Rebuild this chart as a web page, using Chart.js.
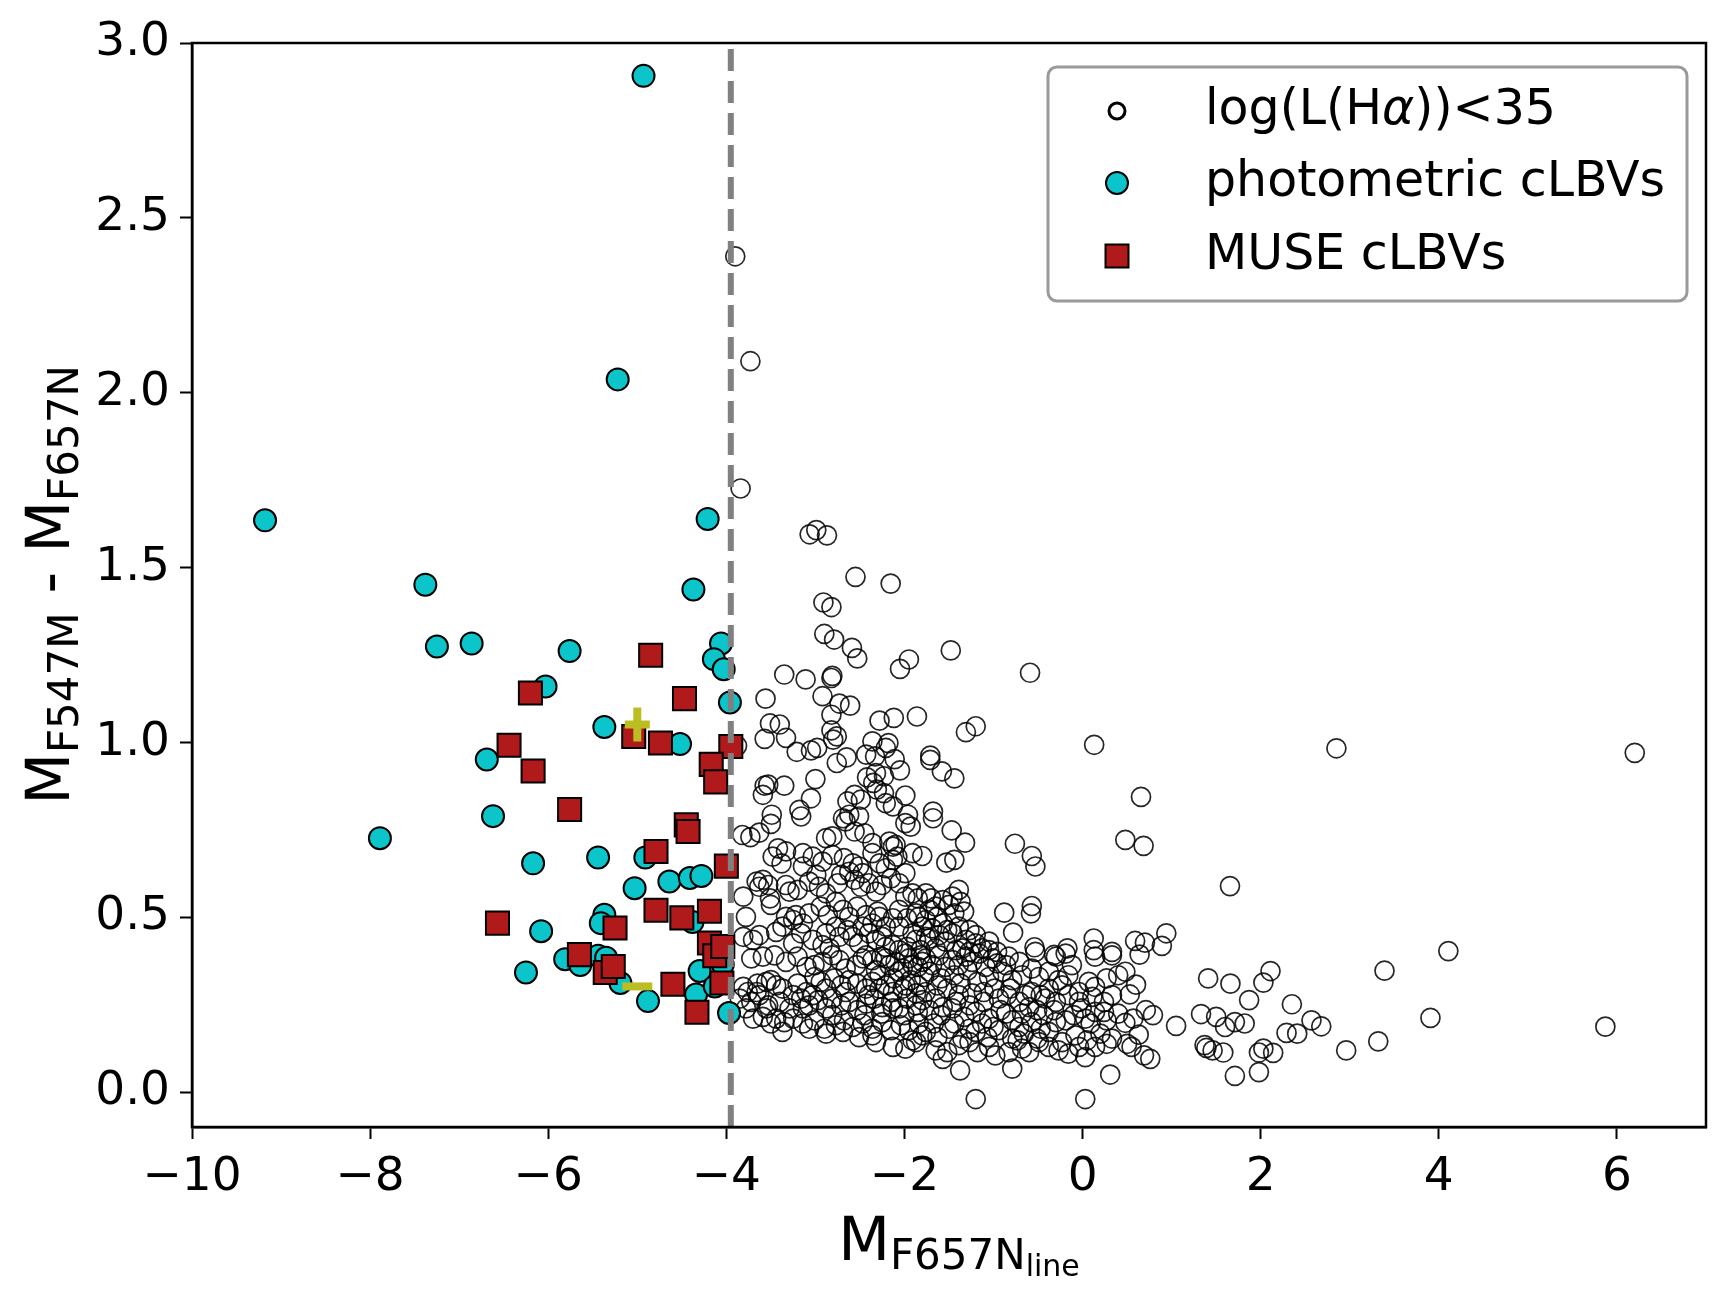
<!DOCTYPE html>
<html lang="en">
<head>
  <meta charset="UTF-8">
  <title>cLBV colour - magnitude diagram</title>
  <script src="https://cdn.jsdelivr.net/npm/chart.js"></script>
  <style>
    body { margin: 0; background: #fff; }
    #cmd { display: block; }
  </style>
</head>
<body>
  <canvas id="cmd" width="1731" height="1293"></canvas>

  <script>
    // x = M_F657N_line, y = M_F547M - M_F657N
    const xTicks = [-10, -8, -6, -4, -2, 0, 2, 4, 6];
    const xTickLabels = ['\u221210', '\u22128', '\u22126', '\u22124', '\u22122', '0', '2', '4', '6'];
    const yTicks = [0, 0.5, 1, 1.5, 2, 2.5, 3];
    const yTickLabels = ['0.0', '0.5', '1.0', '1.5', '2.0', '2.5', '3.0'];
    const cutX = -3.95;   // dashed separation line

    const seriesNames = ['log(L(H\u03b1))<35', 'photometric cLBVs', 'MUSE cLBVs'];

    // faint sources, log(L(Halpha)) < 35  [x, y]
    const faint = [
      [-3.90,2.39],[-3.73,2.09],[-3.84,1.726],[2.85,0.983],[6.2,0.97],[0.656,0.844],[5.87,0.187],[-3.88,0.99],
      [-3.065,1.595],[-2.99,1.607],[-2.87,1.592],[-2.55,1.473],[-2.155,1.454],[-2.91,1.40],[-2.82,1.387],
      [-2.90,1.31],[-2.79,1.294],[-2.59,1.27],[-2.53,1.24],[-1.95,1.237],[-2.05,1.21],[-1.48,1.263],[-0.59,1.199],
      [-3.35,1.194],[-3.11,1.18],[-2.82,1.184],[-2.81,1.19],[-3.56,1.125],[-2.92,1.132],[-2.73,1.111],[-2.61,1.105],
      [-2.82,1.079],[-2.28,1.062],[-2.12,1.07],[-1.86,1.074],[-3.51,1.054],[-3.40,1.051],[-2.82,1.034],[-2.76,1.017],
      [-2.80,1.008],[-3.57,1.01],[-3.33,1.013],[-1.20,1.046],[-1.31,1.029],[0.13,0.993],[-3.21,0.973],[-3.05,0.977],
      [-2.98,0.984],[-2.76,0.941],[-2.65,0.957],[-2.43,0.965],[-2.33,0.96],[-2.36,1.003],[-2.18,0.998],[-2.21,0.984],
      [-2.11,0.952],[-2.05,0.92],[-1.71,0.962],[-1.71,0.95],[-1.58,0.917],[-1.44,0.897],[-2.42,0.90],[-2.32,0.912],
      [-2.23,0.903],[-2.35,0.884],[-2.31,0.865],[-2.23,0.855],[-3.0,0.895],[-3.57,0.876],[-3.53,0.879],[-3.59,0.85],
      [-3.35,0.876],[-3.05,0.84],[-3.18,0.807],[-3.49,0.793],[-2.64,0.831],[-2.56,0.85],[-2.49,0.836],[-1.99,0.848],
      [-2.21,0.826],[-2.13,0.817],[-1.96,0.793],[-1.68,0.802],[-2.69,0.783],[-2.62,0.793],
      [-3.82,0.735],[-3.73,0.729],[-3.63,0.742],[-3.50,0.767],[-3.16,0.788],[-2.88,0.726],[-2.81,0.731],[-2.66,0.774],
      [-2.56,0.745],[-2.45,0.740],[-2.36,0.712],[-2.17,0.716],[-2.13,0.702],[-2.10,0.707],[-1.99,0.769],[-1.93,0.759],
      [-1.91,0.683],[-2.51,0.788],[-3.42,0.697],[-3.33,0.688],[-3.38,0.654],[-3.48,0.673],[-3.14,0.683],[-3.03,0.673],
      [-3.14,0.645],[-2.92,0.659],[-2.81,0.678],[-2.68,0.669],[-2.58,0.654],[-2.51,0.645],[-2.47,0.626],[-2.36,0.683],
      [-2.28,0.654],[-2.21,0.640],[-2.13,0.664],[-2.08,0.673],[-1.99,0.626],[-3.81,0.559],[-3.66,0.602],[-3.59,0.607],
      [-3.53,0.592],[-3.63,0.587],[-3.33,0.592],[-3.29,0.573],[-3.20,0.578],[-3.07,0.602],[-2.99,0.621],[-2.96,0.587],
      [-2.88,0.568],[-2.75,0.597],[-2.71,0.621],[-2.62,0.630],[-2.56,0.607],[-2.49,0.587],[-2.40,0.597],[-2.32,0.573],
      [-2.25,0.592],[-2.15,0.611],[-2.06,0.597],[-1.99,0.559],[-1.91,0.568],[-1.85,0.554],[-3.78,0.501],[-3.51,0.554],
      [-3.50,0.535],[-3.33,0.501],[-3.25,0.492],[-3.22,0.506],[-3.14,0.482],[-3.07,0.511],[-2.94,0.530],[-2.86,0.506],
      [-2.77,0.544],[-2.69,0.521],[-2.62,0.501],[-2.53,0.530],[-2.43,0.506],[-2.36,0.482],[-2.28,0.501],[-2.21,0.473],
      [-2.13,0.497],[-2.06,0.521],[-1.97,0.497],[-1.87,0.511],[-1.80,0.473],[-3.81,0.444],[-3.70,0.435],[-3.63,0.449],
      [-3.44,0.458],[-3.37,0.473],[-3.25,0.425],[-3.16,0.454],[-3.03,0.435],[-2.92,0.420],[-2.84,0.411],[-2.73,0.444],
      [-2.64,0.463],[-2.51,0.425],[-2.40,0.454],[-2.32,0.435],[-2.25,0.444],[-2.13,0.420],[-2.06,0.406],[-1.97,0.415],
      [-1.87,0.435],[-1.82,0.406],[-1.76,0.444],
      [-3.72,0.382],[-3.59,0.387],[-3.46,0.391],[-3.33,0.372],[-3.20,0.387],[-3.10,0.358],[-3.01,0.363],[-2.92,0.372],
      [-2.81,0.391],[-2.73,0.377],[-2.66,0.353],[-2.54,0.363],[-2.47,0.382],[-2.36,0.377],[-2.26,0.387],[-2.17,0.363],
      [-2.10,0.372],[-2.02,0.353],[-1.95,0.382],[-1.85,0.358],[-1.80,0.372],[-3.81,0.301],[-3.76,0.286],[-3.65,0.310],
      [-3.55,0.315],[-3.50,0.320],[-3.44,0.305],[-3.37,0.296],[-3.20,0.310],[-3.10,0.286],[-3.01,0.329],[-2.94,0.315],
      [-2.88,0.296],[-2.79,0.325],[-2.71,0.305],[-2.62,0.320],[-2.53,0.310],[-2.43,0.296],[-2.36,0.315],[-2.28,0.334],
      [-2.21,0.305],[-2.12,0.325],[-2.02,0.296],[-1.93,0.320],[-1.85,0.305],[-1.78,0.329],[-3.85,0.267],[-3.72,0.258],
      [-3.63,0.277],[-3.53,0.248],[-3.40,0.258],[-3.29,0.239],[-3.16,0.267],[-3.07,0.248],[-2.97,0.263],[-2.88,0.239],
      [-2.81,0.267],[-2.71,0.248],[-2.62,0.258],[-2.53,0.234],[-2.43,0.253],[-2.34,0.267],[-2.25,0.243],[-2.15,0.258],
      [-2.06,0.239],[-1.97,0.267],[-1.87,0.248],[-1.80,0.263],[-3.70,0.210],[-3.59,0.215],[-3.50,0.196],[-3.35,0.200],
      [-3.25,0.210],[-3.14,0.196],[-3.01,0.205],[-2.90,0.181],[-2.77,0.191],[-2.68,0.205],[-2.58,0.186],[-2.47,0.196],
      [-2.36,0.181],[-2.25,0.200],[-2.15,0.177],[-2.04,0.191],[-1.95,0.177],[-1.84,0.196],[-3.37,0.172],[-2.88,0.167],
      [-2.51,0.157],[-2.36,0.162],[-2.13,0.129],[-1.91,0.148],[-1.80,0.162],
      [-1.68,0.783],[-1.47,0.748],[-1.32,0.713],[-1.53,0.656],[-1.44,0.664],[-0.76,0.710],[-0.57,0.675],[-0.53,0.645],
      [-1.80,0.675],[-1.76,0.568],[-1.70,0.554],[-1.39,0.578],[-1.46,0.559],[-1.37,0.544],[-1.50,0.535],[-1.33,0.516],
      [-1.72,0.521],[-1.63,0.501],[-1.76,0.492],[-1.57,0.482],[-1.69,0.468],[-1.39,0.473],[-1.46,0.454],[-1.61,0.449],
      [-1.72,0.439],[-1.54,0.430],[-1.31,0.435],[-1.20,0.425],[-1.05,0.430],[-1.13,0.411],[-1.65,0.411],[-1.42,0.406],
      [-1.27,0.401],[-0.96,0.401],[-0.88,0.513],[-0.57,0.532],[-0.58,0.511],[-0.78,0.456],[-0.54,0.414],[-0.17,0.411],
      [0.125,0.439],[0.33,0.401],[0.125,0.406],[-0.32,0.392],
      [-1.76,0.382],[-1.61,0.391],[-1.46,0.377],[-1.31,0.387],[-1.16,0.396],[-1.01,0.382],[-0.86,0.363],[-0.71,0.372],
      [-0.57,0.353],[-0.53,0.401],[-0.30,0.387],[-0.19,0.396],[0.14,0.387],[0.33,0.391],[-1.72,0.344],[-1.59,0.325],
      [-1.44,0.334],[-1.29,0.348],[-1.18,0.315],[-1.05,0.329],[-0.90,0.344],[-0.79,0.320],[-0.68,0.334],[-0.49,0.329],
      [-0.38,0.344],[-0.27,0.320],[-0.16,0.334],[0.07,0.315],[0.14,0.301],[0.27,0.325],[0.40,0.334],[-1.76,0.286],
      [-1.65,0.267],[-1.52,0.296],[-1.39,0.277],[-1.24,0.282],[-1.11,0.258],[-0.99,0.296],[-0.85,0.277],[-0.71,0.258],
      [-0.57,0.286],[-0.47,0.277],[-0.42,0.267],[-0.30,0.258],[-0.16,0.277],[-0.04,0.258],[0.11,0.272],[0.24,0.258],
      [0.33,0.277],[-1.72,0.234],[-1.59,0.220],[-1.46,0.239],[-1.33,0.215],[-1.20,0.229],[-1.05,0.210],[-0.92,0.234],
      [-0.79,0.205],[-0.68,0.224],[-0.57,0.200],[-0.44,0.220],[-0.32,0.234],[-0.19,0.205],[-0.10,0.220],[0.03,0.210],
      [0.14,0.229],[0.27,0.205],[0.40,0.224],[-1.76,0.172],[-1.63,0.157],[-1.50,0.181],[-1.35,0.153],[-1.20,0.172],
      [-1.07,0.157],[-0.94,0.177],[-0.79,0.153],[-0.66,0.167],[-0.51,0.153],[-0.38,0.172],[-0.23,0.143],[-0.08,0.162],
      [0.05,0.148],[0.20,0.167],[0.33,0.153],[-1.65,0.119],[-1.52,0.114],[-1.39,0.134],[-1.27,0.143],[-0.98,0.105],
      [-0.83,0.114],[-0.68,0.124],[-0.49,0.143],[-0.27,0.119],[-0.16,0.110],[0.03,0.100],[0.14,0.129],[-1.57,0.095],
      [-1.375,0.062],[-0.79,0.067],[0.31,0.050],[-1.20,-0.02],[0.03,-0.02],
      [0.48,0.721],[0.685,0.704],[1.655,0.589],[4.107,0.403],[3.39,0.347],[3.906,0.212],[3.32,0.145],[2.96,0.119],
      [0.59,0.432],[0.70,0.427],[0.94,0.454],[0.89,0.418],[0.64,0.393],[0.48,0.344],[0.60,0.307],[0.53,0.279],
      [0.71,0.234],[0.79,0.22],[0.57,0.21],[0.48,0.198],[0.63,0.164],[0.50,0.138],[0.55,0.129],[0.69,0.105],
      [0.76,0.095],[1.05,0.189],[1.41,0.325],[1.66,0.31],[2.11,0.346],[2.03,0.313],[1.87,0.263],[2.35,0.251],
      [1.33,0.223],[1.50,0.215],[1.60,0.186],[1.71,0.2],[1.82,0.196],[1.37,0.134],[1.39,0.126],[1.46,0.119],
      [1.58,0.113],[2.03,0.124],[1.98,0.113],[2.14,0.112],[1.98,0.057],[1.71,0.046],[2.29,0.169],[2.41,0.167],
      [2.57,0.205],[2.68,0.188],
      // overlapping rings in the dense core
      [-1.69,0.363],[-1.54,0.358],[-1.39,0.363],[-1.24,0.372],[-1.09,0.358],[-0.96,0.368],[-0.83,0.387],[-1.37,0.310],
      [-1.63,0.305],[-1.11,0.286],[-0.94,0.267],[-0.81,0.296],[-1.27,0.248],[-1.42,0.258],[-1.57,0.243],[-0.86,0.224],
      [-1.13,0.196],[-1.00,0.186],[-1.27,0.181],[-1.44,0.196],[-1.67,0.196],[-0.71,0.186],[-0.64,0.277],[-0.60,0.243],
      [-0.47,0.181],[-0.30,0.200],[-0.01,0.239],[0.09,0.196],[0.24,0.229],[-0.04,0.286],[-0.23,0.305],[-0.12,0.363],
      [-0.38,0.296],[-0.51,0.234],[-0.73,0.148],[-1.05,0.129],[-1.18,0.114],[-0.60,0.114],[-0.38,0.129],[-0.04,0.129],
      [0.27,0.138],
      [-2.43,0.391],[-2.32,0.348],[-2.21,0.382],[-2.06,0.344],[-1.91,0.363],[-1.82,0.391],[-2.40,0.277],[-2.28,0.296],
      [-2.13,0.286],[-1.99,0.305],[-1.87,0.282],[-2.13,0.239],[-2.00,0.220],[-2.26,0.224],[-1.85,0.229],[-2.45,0.220],
      [-2.66,0.286],[-2.81,0.220],[-3.03,0.277],[-3.14,0.239],[-3.25,0.277],[-3.44,0.210],[-3.55,0.239],[-3.66,0.286],
      [-3.78,0.239],[-1.87,0.143],[-1.99,0.124],[-2.32,0.143],[-2.69,0.172],[-3.07,0.181],
      [-2.30,0.516],[-2.06,0.473],[-1.91,0.454],[-2.21,0.415],[-1.99,0.396],[-1.84,0.501],[-2.47,0.473],[-2.58,0.444],
      [-2.77,0.473],[-2.88,0.454],
      [-1.57,0.549],[-1.65,0.530],[-1.44,0.511],[-1.52,0.463],[-1.27,0.463],[-1.20,0.449],[-1.35,0.411],[-1.05,0.406]
    ];

    // photometric cLBVs [x, y]
    const photometric = [
      [-4.93,2.906],[-5.22,2.038],[-9.18,1.635],[-7.38,1.451],[-4.21,1.639],[-4.37,1.437],
      [-7.25,1.274],[-6.86,1.283],[-5.76,1.261],[-6.03,1.160],[-5.37,1.044],[-6.69,0.951],[-4.52,0.995],
      [-6.62,0.789],[-7.89,0.726],[-6.17,0.654],[-5.44,0.671],[-4.91,0.671],[-5.03,0.583],[-4.64,0.602],
      [-4.41,0.612],[-4.28,0.618],[-5.37,0.507],[-5.41,0.483],[-6.08,0.460],[-6.25,0.342],[-5.81,0.380],
      [-5.64,0.363],[-5.44,0.390],[-5.35,0.384],[-5.19,0.312],[-4.88,0.260],[-4.38,0.486],[-4.30,0.346],
      [-4.34,0.279],[-4.13,0.302],[-4.04,0.365],[-3.97,0.226],[-4.06,1.283],[-4.14,1.238],[-4.03,1.209],
      [-3.96,1.114]
    ];

    // MUSE cLBVs [x, y]
    const muse = [
      [-4.85,1.249],[-6.20,1.141],[-4.47,1.125],[-6.44,0.992],[-5.04,1.017],[-4.74,0.998],[-3.95,0.988],
      [-6.17,0.918],[-4.17,0.937],[-4.12,0.887],[-5.76,0.808],[-4.45,0.764],[-4.43,0.745],[-4.79,0.688],
      [-4.00,0.646],[-6.57,0.483],[-4.79,0.520],[-4.50,0.498],[-4.19,0.517],[-5.25,0.469],[-4.19,0.426],
      [-4.13,0.390],[-4.04,0.416],[-5.65,0.393],[-5.36,0.342],[-5.27,0.359],[-4.60,0.308],[-4.05,0.312],
      [-4.33,0.228]
    ];

    // the two yellow marks
    const plusMark = [[-5.0, 1.051]];
    const dashMark = [[-5.0, 0.302]];

    const FONT = 'DejaVu Sans';
    const CYAN = '#0bc5ca';
    const RED = '#b01a1a';
    const OLIVE = '#bcbd22';
    const toXY = arr => arr.map(p => ({ x: p[0], y: p[1] }));

    // draw a row of text pieces (size / baseline shift / italic) centred on cx
    function drawRuns(ctx, runs, cx, baseY, alignLeft) {
      let total = 0;
      runs.forEach(r => {
        ctx.font = (r.it ? 'italic ' : '') + r.size + 'px "' + FONT + '"';
        r.w = ctx.measureText(r.t).width;
        total += r.w;
      });
      let x = alignLeft ? cx : cx - total / 2;
      ctx.textAlign = 'left';
      runs.forEach(r => {
        ctx.font = (r.it ? 'italic ' : '') + r.size + 'px "' + FONT + '"';
        ctx.fillText(r.t, x, baseY + r.dy);
        x += r.w;
      });
    }

    const decor = {
      id: 'decor',
      afterDraw(chart) {
        const { ctx, chartArea: a } = chart;
        ctx.save();
        // frame
        ctx.strokeStyle = '#000';
        ctx.lineWidth = 2.5;
        ctx.strokeRect(a.left, a.top, a.right - a.left, a.bottom - a.top);

        // legend box
        const bx = 1048, by = 67, bw = 639, bh = 234;
        ctx.beginPath();
        ctx.roundRect(bx, by, bw, bh, 9);
        ctx.fillStyle = 'rgba(255,255,255,0.85)';
        ctx.fill();
        ctx.strokeStyle = '#9a9a9a';
        ctx.lineWidth = 3;
        ctx.stroke();

        const mx = 1117, tx = 1205, rows = [111, 183, 256];
        ctx.beginPath();
        ctx.arc(mx, rows[0], 8, 0, Math.PI * 2);
        ctx.strokeStyle = '#000';
        ctx.lineWidth = 3;
        ctx.stroke();
        ctx.beginPath();
        ctx.arc(mx, rows[1], 11, 0, Math.PI * 2);
        ctx.fillStyle = CYAN;
        ctx.fill();
        ctx.lineWidth = 2;
        ctx.stroke();
        ctx.fillStyle = RED;
        ctx.fillRect(mx - 11.5, rows[2] - 11.5, 23, 23);
        ctx.strokeRect(mx - 11.5, rows[2] - 11.5, 23, 23);

        ctx.fillStyle = '#000';
        ctx.textBaseline = 'middle';
        seriesNames.forEach((n, i) => {
          const parts = n.split('\u03b1');
          const runs = [{ t: parts[0], size: 49, dy: 0 }];
          if (parts.length > 1) {
            runs.push({ t: '\u03b1', size: 49, dy: 0, it: true });
            runs.push({ t: parts[1], size: 49, dy: 0 });
          }
          drawRuns(ctx, runs, tx, rows[i], true);
        });

        // x axis title  M_{F657N_{line}}
        ctx.textBaseline = 'alphabetic';
        drawRuns(ctx, [
          { t: 'M', size: 60, dy: 0 },
          { t: 'F657N', size: 42, dy: 9 },
          { t: 'line', size: 30, dy: 16 }
        ], 959, 1260);

        // y axis title  M_{F547M} - M_{F657N}
        ctx.translate(69, 585);
        ctx.rotate(-Math.PI / 2);
        drawRuns(ctx, [
          { t: 'M', size: 60, dy: 0 },
          { t: 'F547M', size: 42, dy: 9 },
          { t: ' - ', size: 60, dy: 0 },
          { t: 'M', size: 60, dy: 0 },
          { t: 'F657N', size: 42, dy: 9 }
        ], 0, 0);
        ctx.restore();
      }
    };

    const axisCommon = {
      type: 'linear',
      grid: { display: true, drawOnChartArea: false, drawTicks: true, tickLength: 12, tickWidth: 2, tickColor: '#000' },
      border: { display: true, color: '#000', width: 2.5 },
    };

    new Chart(document.getElementById('cmd'), {
      type: 'scatter',
      data: {
        datasets: [
          {
            label: 'cut',
            type: 'line',
            data: [{ x: cutX, y: -0.1 }, { x: cutX, y: 3.0 }],
            borderColor: '#808080',
            borderWidth: 6,
            borderDash: [22, 10],
            pointRadius: 0,
            showLine: true,
            order: 0
          },
          {
            label: 'plus',
            data: toXY(plusMark),
            pointStyle: 'line',
            pointRadius: 12.5,
            pointBorderWidth: 8,
            pointBorderColor: OLIVE,
            order: 1
          },
          {
            label: 'plus-v',
            data: toXY(plusMark),
            pointStyle: 'line',
            pointRotation: 90,
            pointRadius: 17,
            pointBorderWidth: 8,
            pointBorderColor: OLIVE,
            order: 1
          },
          {
            label: 'dash',
            data: toXY(dashMark),
            pointStyle: 'line',
            pointRadius: 15,
            pointBorderWidth: 8,
            pointBorderColor: OLIVE,
            order: 1
          },
          {
            label: seriesNames[2],
            data: toXY(muse),
            pointStyle: 'rect',
            pointRadius: 16.3,
            pointBackgroundColor: RED,
            pointBorderColor: '#000',
            pointBorderWidth: 2,
            order: 2
          },
          {
            label: seriesNames[1],
            data: toXY(photometric),
            pointStyle: 'circle',
            pointRadius: 11,
            pointBackgroundColor: CYAN,
            pointBorderColor: '#000',
            pointBorderWidth: 2,
            order: 3
          },
          {
            label: seriesNames[0],
            data: toXY(faint),
            pointStyle: 'circle',
            pointRadius: 9.5,
            pointBackgroundColor: 'rgba(0,0,0,0)',
            pointBorderColor: 'rgba(0,0,0,0.85)',
            pointBorderWidth: 1.7,
            order: 4
          }
        ]
      },
      options: {
        responsive: false,
        animation: false,
        devicePixelRatio: 1,
        layout: { padding: { top: 43, right: 20, left: 0, bottom: 0 } },
        plugins: { legend: { display: false }, tooltip: { enabled: false } },
        elements: { point: { hoverRadius: 0 } },
        scales: {
          x: {
            ...axisCommon,
            position: 'bottom',
            min: -10, max: 7,
            afterBuildTicks: s => { s.ticks = xTicks.map(v => ({ value: v })); },
            afterFit: s => { s.height = 166; },
            ticks: {
              color: '#000', padding: 11,
              font: { family: FONT, size: 47 },
              callback: (v, i) => xTickLabels[i]
            }
          },
          y: {
            ...axisCommon,
            position: 'left',
            min: -0.1, max: 3.0,
            afterBuildTicks: s => { s.ticks = yTicks.map(v => ({ value: v })); },
            afterFit: s => { s.width = 192; },
            ticks: {
              color: '#000', padding: 10,
              font: { family: FONT, size: 47 },
              callback: (v, i) => yTickLabels[i]
            }
          }
        }
      },
      plugins: [decor]
    });
  </script>
</body>
</html>
